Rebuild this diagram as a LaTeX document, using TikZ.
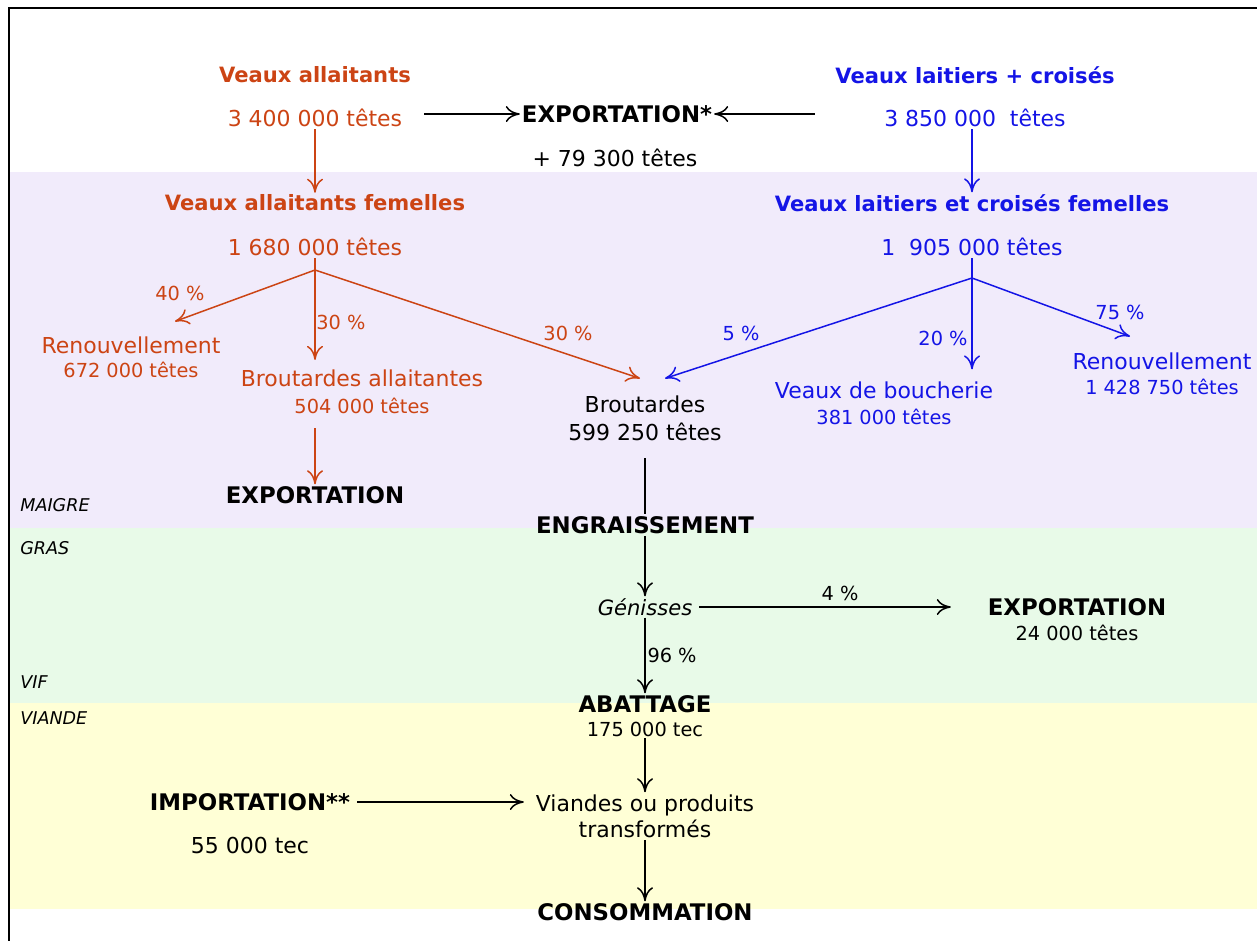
\documentclass[tikz,border=0pt]{standalone}
\usepackage{fontspec}
\setmainfont{DejaVu Sans}
\usetikzlibrary{arrows.meta,positioning,calc}
\definecolor{rust}{RGB}{204,68,20}
\definecolor{royal}{RGB}{20,20,230}
\definecolor{lilac}{RGB}{241,235,251}
\definecolor{mint}{RGB}{232,250,232}
\definecolor{cream}{RGB}{255,255,214}

\begin{document}
\begin{tikzpicture}[x=0.02cm,y=-0.02cm,
          head/.style={font=\fontsize{12}{14}\selectfont\bfseries,inner sep=1pt},
          cnt/.style={font=\fontsize{12.5}{15}\selectfont,inner sep=1pt},
          sml/.style={font=\fontsize{11}{13}\selectfont,inner sep=1pt},
          big/.style={font=\fontsize{13}{15}\selectfont\bfseries,inner sep=1pt},
          pct/.style={font=\fontsize{11}{13}\selectfont,inner sep=1pt},
          zone/.style={font=\fontsize{10}{12}\selectfont\itshape,anchor=west,inner sep=0pt},
          flow/.style={-{To[length=2.8mm,width=3.2mm]},line width=0.85pt}
        ]
        \useasboundingbox (0,0) rectangle (1257,941);
        % bands
        \fill[lilac] (10,172) rectangle (1257,528);
        \fill[mint]  (10,528) rectangle (1257,703);
        \fill[cream] (10,703) rectangle (1257,909);
        \draw[line width=1.5pt] (1257,8) -- (9,8) -- (9,941);
        \node[zone] (maigre) at (20,505) {MAIGRE};
        \node[zone] (gras)   at (20,548) {GRAS};
        \node[zone] (vif)    at (20,682) {VIF};
        \node[zone] (viande) at (20,718) {VIANDE};

        % top row
        \node[head,rust]  (allT)  at (315,75)  {Veaux allaitants};
        \node[cnt,rust]   (allN)  at (315,118) {3 400 000 têtes};
        \node[big]        (expT)  at (617,114) {EXPORTATION*};
        \node[cnt]        (expN)  at (615,158) {+ 79 300 têtes};
        \node[head,royal] (laiT)  at (975,75)  {Veaux laitiers + croisés};
        \node[cnt,royal]  (laiN)  at (975,118) {3 850 000~ têtes};
        \draw[flow,shorten <=0.4cm] (allN.east |- expT) -- (expT);
        \draw[flow,shorten <=1.35cm] (laiN.west |- expT) -- (expT);

        % females
        \node[head,rust]  (allfT) at (315,203) {Veaux allaitants femelles};
        \node[cnt,rust]   (allfN) at (315,247) {1 680 000 têtes};
        \node[head,royal] (laifT) at (972,203) {Veaux laitiers et croisés femelles};
        \node[cnt,royal]  (laifN) at (972,247) {1~ 905 000 têtes};
        \draw[flow,rust]  (allN) -- (allfT);
        \draw[flow,royal] (laifT.north |- laiN.south) -- (laifT);

        \coordinate (orsplit) at (315,270);
        \coordinate (blsplit) at (972,278);

        \node[cnt,rust]   (renA)  at (131,345) {Renouvellement};
        \node[sml,rust]   (renAn) at (131,370) {672 000 têtes};
        \node[cnt,rust]   (brA)   at (362,378) {Broutardes allaitantes};
        \node[sml,rust]   (brAn)  at (362,406) {504 000 têtes};
        \node[big]        (exp2)  at (315,495) {EXPORTATION};
        \node[cnt]        (brt)   at (645,404) {Broutardes};
        \node[cnt]        (brtN)  at (645,432) {599 250 têtes};
        \node[cnt,royal]  (veb)   at (884,390) {Veaux de boucherie};
        \node[sml,royal]  (vebN)  at (884,417) {381 000 têtes};
        \node[cnt,royal]  (renL)  at (1162,361) {Renouvellement};
        \node[sml,royal]  (renLn) at (1162,387) {1 428 750 têtes};

        \draw[rust,line width=0.85pt] (allfN) -- (orsplit);
        \draw[flow,rust] (orsplit) -- ([shift={(44,-13)}]renA.north);
        \draw[flow,rust] (orsplit) -- ([yshift=0.15cm]orsplit |- brA.north);
        \draw[flow,rust] (orsplit) -- ([shift={(-5,-15)}]brt.north);
        \draw[flow,rust,shorten <=0.25cm] (exp2 |- brAn.south) -- (exp2);
        \node[pct,rust]  (p40)  at (180,293) {40 \%};
        \node[pct,rust]  (p30a) at (341,322) {30 \%};
        \node[pct,rust]  (p30b) at (568,333) {30 \%};

        \draw[royal,line width=0.85pt] (laifN) -- (blsplit);
        \draw[flow,royal] (blsplit) -- ([shift={(20,-15)}]brt.north);
        \draw[flow,royal,shorten >=0.2cm] (blsplit) -- (blsplit |- veb.north);
        \draw[flow,royal] (blsplit) -- ([shift={(-32,-14)}]renL.north);
        \node[pct,royal] (p5)  at (741,333) {5 \%};
        \node[pct,royal] (p20) at (943,338) {20 \%};
        \node[pct,royal] (p75) at (1120,312) {75 \%};

        % fattening and slaughter
        \node[big]  (engr)  at (645,525) {ENGRAISSEMENT};
        \node[cnt,font=\fontsize{12}{14}\selectfont\itshape] (gen) at (645,607) {Génisses};
        \node[big]  (exp3)  at (1077,607) {EXPORTATION};
        \node[sml]  (exp3N) at (1077,633) {24 000 têtes};
        \node[big]  (abat)  at (645,704) {ABATTAGE};
        \node[sml]  (abatN) at (645,729) {175 000 tec};
        \node[cnt,align=center] (viand) at (645,816) {Viandes ou produits\\transformés};
        \node[big]  (imp)   at (250,802) {IMPORTATION**};
        \node[cnt]  (impN)  at (250,845) {55 000 tec};
        \node[big]  (conso) at (645,912) {CONSOMMATION};

        \draw[line width=0.85pt,shorten <=0.3cm] (brtN) -- (engr);
        \draw[flow] (engr) -- (gen);
        \draw[flow,shorten <=0.1cm,shorten >=0.7cm] (gen) -- node[above=2pt,pct]{4 \%} (exp3);
        \draw[flow] (gen) -- node[right,pct]{96 \%} (abat);
        \draw[flow] (abatN) -- (viand);
        \draw[flow,shorten <=0.1cm,shorten >=0.2cm] (imp.east) -- (viand.west |- imp.east);
        \draw[flow] (viand) -- (conso);
      \end{tikzpicture}
\end{document}
